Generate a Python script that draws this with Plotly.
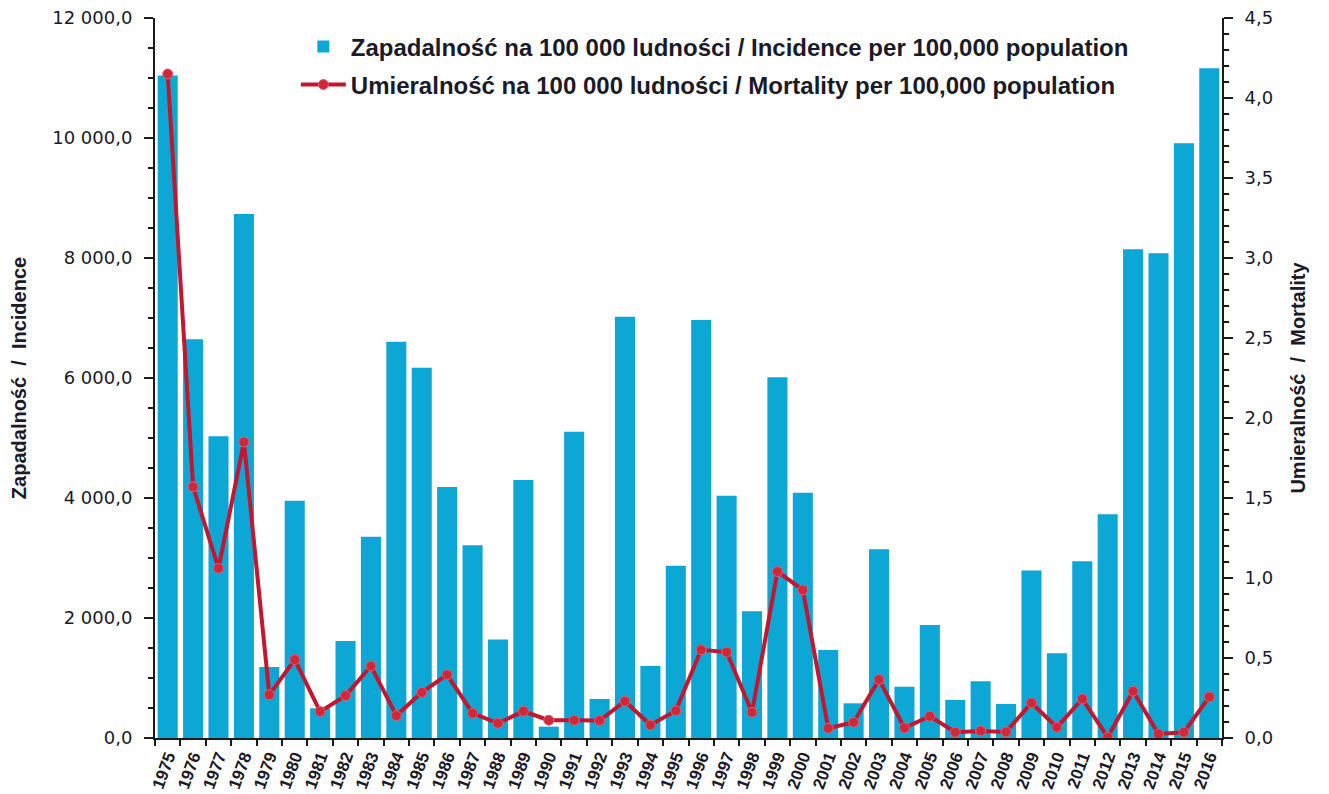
import plotly.graph_objects as go

years = [str(y) for y in range(1975, 2017)]
incidence = [11040, 6645, 5030, 8733, 1185, 3955, 495, 1617, 3355, 6605,
             6170, 4183, 3211, 1640, 4300, 189, 5105, 650, 7020, 1200,
             2870, 6967, 4039, 2111, 6011, 4089, 1467, 578, 3144, 856,
             1883, 633, 944, 567, 2790, 1411, 2945, 3728, 8144, 8078,
             9911, 11161]
mortality = [4.15, 1.57, 1.06, 1.85, 0.27, 0.49, 0.165, 0.265, 0.45, 0.14,
             0.285, 0.395, 0.155, 0.092, 0.167, 0.111, 0.111, 0.109, 0.23, 0.081,
             0.171, 0.551, 0.537, 0.161, 1.04, 0.925, 0.061, 0.098, 0.365, 0.063,
             0.136, 0.036, 0.044, 0.038, 0.219, 0.067, 0.244, 0.005, 0.292, 0.025,
             0.036, 0.257]
left_ticks = [0, 2000, 4000, 6000, 8000, 10000, 12000]
right_ticks = [0, 0.5, 1.0, 1.5, 2.0, 2.5, 3.0, 3.5, 4.0, 4.5]

name_inc = "Zapadalność na 100 000 ludności / Incidence per 100,000 population"
name_mort = "Umieralność na 100 000 ludności / Mortality per 100,000 population"
title_left = "Zapadalność  /  Incidence"
title_right = "Umieralność  /  Mortality"

BAR = "#0DA7D6"
RED = "#C4162E"
TXT = "#1a1a28"
AX = "#1a1a1a"

fig = go.Figure()
fig.add_trace(go.Bar(
    x=years, y=incidence, name=name_inc, marker=dict(color=BAR, line=dict(width=0)),
    legend="legend", yaxis="y"))
fig.add_trace(go.Scatter(
    x=years, y=mortality, name=name_mort, mode="lines+markers",
    line=dict(color=RED, width=4),
    marker=dict(color="#D0283A", size=10, line=dict(color="#E06070", width=1)),
    legend="legend2", yaxis="y2"))

legend_font = dict(family="Liberation Sans", size=24, color=TXT, weight="bold")

fig.update_layout(
    width=1329, height=794,
    margin=dict(l=147, r=115, t=10, b=64),
    paper_bgcolor="white", plot_bgcolor="white",
    separators=", ",
    bargap=0.21,
    font=dict(family="Liberation Sans", color=TXT),
    xaxis=dict(
        type="category", range=[-0.5, len(years) - 0.5], tickangle=-70, tickson="boundaries",
        ticks="outside", ticklen=6, tickwidth=2, tickcolor=AX,
        showline=True, linecolor=AX, linewidth=2, showgrid=False,
        tickfont=dict(family="Liberation Sans", size=17, color=TXT, weight="bold"),
        automargin=False,
    ),
    yaxis=dict(
        range=[0, 12000], tickmode="array", tickvals=left_ticks, tickformat=",.1f",
        ticks="outside", ticklen=9, tickwidth=2, tickcolor=AX,
        minor=dict(dtick=500, tick0=0, ticks="outside", ticklen=5, tickwidth=1.5, tickcolor=AX),
        showline=True, linecolor=AX, linewidth=2, showgrid=False, zeroline=False,
        tickfont=dict(family="DejaVu Sans", size=18, color=TXT),
        ticklabelstandoff=8, ticklabeloverflow="allow",
        title=dict(text=title_left, standoff=22,
                   font=dict(family="Liberation Sans", size=20, color=TXT, weight="bold")),
        automargin=False,
    ),
    yaxis2=dict(
        overlaying="y", side="right",
        range=[0, 4.5], tickmode="array", tickvals=right_ticks, tickformat=".1f",
        ticks="outside", ticklen=9, tickwidth=2, tickcolor=AX,
        minor=dict(dtick=0.1, tick0=0, ticks="outside", ticklen=5, tickwidth=1.5, tickcolor=AX),
        showline=True, linecolor=AX, linewidth=2, showgrid=False, zeroline=False,
        tickfont=dict(family="DejaVu Sans", size=18, color=TXT),
        ticklabelstandoff=8, ticklabeloverflow="allow",
        title=dict(text=title_right, standoff=19,
                   font=dict(family="Liberation Sans", size=20, color=TXT, weight="bold")),
        automargin=False,
    ),
    legend=dict(x=0.132, y=0.9597, xanchor="left", yanchor="middle",
                bgcolor="rgba(0,0,0,0)", font=legend_font, itemwidth=45),
    legend2=dict(x=0.132, y=0.907, xanchor="left", yanchor="middle",
                 bgcolor="rgba(0,0,0,0)", font=legend_font, itemwidth=45),
    showlegend=True,
)

fig.write_html("out.html")
